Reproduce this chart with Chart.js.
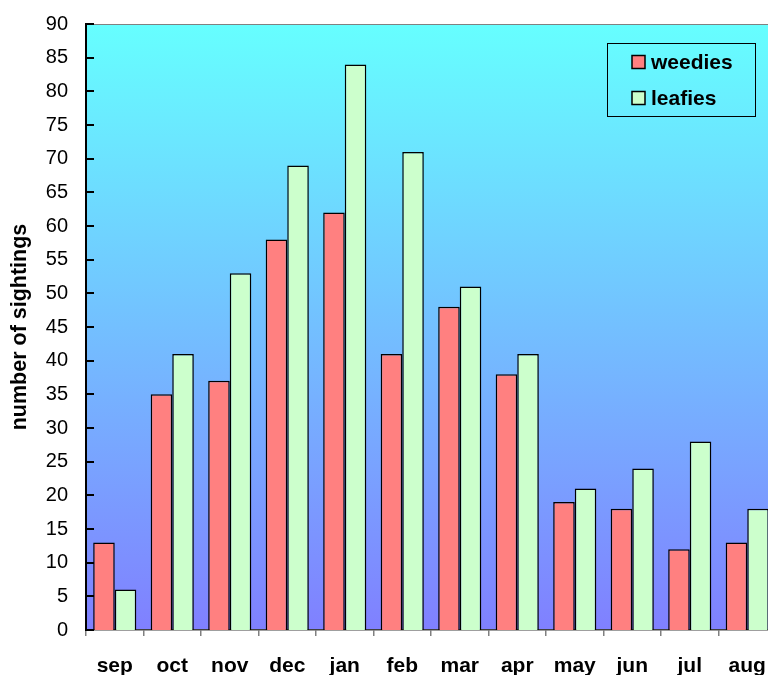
<!DOCTYPE html>
<html>
<head>
<meta charset="utf-8">
<script src="https://cdn.jsdelivr.net/npm/chart.js@4/dist/chart.umd.min.js"></script>
<style>
  html, body { margin: 0; padding: 0; overflow: hidden; background: #ffffff; }
  #wrap { width: 790px; height: 675px; }
</style>
</head>
<body>
<div id="wrap"><canvas id="c" width="790" height="675"></canvas></div>
<script>
// Monthly sightings, September through August
const months = ['sep', 'oct', 'nov', 'dec', 'jan', 'feb', 'mar', 'apr', 'may', 'jun', 'jul', 'aug'];
const weedies = [13, 35, 37, 58, 62, 41, 48, 38, 19, 18, 12, 13];
const leafies = [6, 41, 53, 69, 84, 71, 51, 41, 21, 24, 28, 18];
const yMax = 90;
const yStep = 5;

const FONT = "'Liberation Sans', Arial, Helvetica, sans-serif";

// Gradient plot background, plot frame and inward y tick marks
const plotDecor = {
  id: 'plotDecor',
  beforeDraw(chart) {
    const { ctx, chartArea: a } = chart;
    const g = ctx.createLinearGradient(0, a.top, 0, a.bottom);
    g.addColorStop(0, '#66ffff');
    g.addColorStop(1, '#8080ff');
    ctx.save();
    ctx.fillStyle = g;
    ctx.fillRect(a.left, a.top, a.right - a.left, a.bottom - a.top);
    ctx.strokeStyle = '#808080';
    ctx.lineWidth = 1;
    ctx.beginPath();
    ctx.moveTo(a.left, a.top + 0.5);
    ctx.lineTo(a.right, a.top + 0.5);
    ctx.stroke();
    ctx.restore();
  },
  afterDraw(chart) {
    const { ctx, chartArea: a, scales } = chart;
    const y = scales.y;
    ctx.save();
    ctx.strokeStyle = '#000000';
    ctx.lineWidth = 2;
    ctx.beginPath();
    y.ticks.forEach(t => {
      const py = Math.round(y.getPixelForValue(t.value));
      ctx.moveTo(a.left, py);
      ctx.lineTo(a.left + 8, py);
    });
    ctx.stroke();
    ctx.beginPath();
    ctx.moveTo(a.left, a.top - 1);
    ctx.lineTo(a.left, a.bottom + 1);
    ctx.stroke();
    ctx.restore();
  }
};

// Boxed legend drawn inside the plot, top right
const boxLegend = {
  id: 'boxLegend',
  afterDraw(chart) {
    const { ctx } = chart;
    const bx = 607, by = 43, bw = 148, bh = 73;
    ctx.save();
    ctx.strokeStyle = '#000000';
    ctx.lineWidth = 1;
    ctx.strokeRect(bx + 0.5, by + 0.5, bw, bh);
    ctx.font = 'bold 21px ' + FONT;
    ctx.textBaseline = 'middle';
    ctx.textAlign = 'left';
    chart.data.datasets.forEach((ds, i) => {
      const cy = by + 19 + i * 36;
      ctx.fillStyle = ds.backgroundColor;
      ctx.fillRect(bx + 25, cy - 6.5, 13, 13);
      ctx.strokeStyle = '#000000';
      ctx.lineWidth = 1.5;
      ctx.strokeRect(bx + 25, cy - 6.5, 13, 13);
      ctx.fillStyle = '#000000';
      ctx.fillText(ds.label, bx + 44, cy + 1);
    });
    ctx.restore();
  }
};

new Chart(document.getElementById('c'), {
  type: 'bar',
  data: {
    labels: months,
    datasets: [
      { label: 'weedies', data: weedies, backgroundColor: '#ff8080', borderColor: '#000000', borderWidth: 1.5 },
      { label: 'leafies', data: leafies, backgroundColor: '#ccffcc', borderColor: '#000000', borderWidth: 1.5 }
    ]
  },
  options: {
    responsive: false,
    animation: false,
    devicePixelRatio: 1,
    layout: { padding: { left: 0, top: 24, right: 14, bottom: 0 } },
    datasets: { bar: { categoryPercentage: 0.75, barPercentage: 1.0 } },
    plugins: {
      legend: { display: false },
      tooltip: { enabled: false }
    },
    scales: {
      x: {
        offset: true,
        grid: {
          offset: true,
          display: true,
          drawOnChartArea: false,
          drawTicks: true,
          tickLength: 6,
          color: '#808080',
          lineWidth: 1.5
        },
        border: { display: true, color: '#404040', width: 1.5 },
        ticks: {
          color: '#000000',
          padding: 18,
          font: { family: FONT, size: 21, weight: 'bold' },
          maxRotation: 0,
          autoSkip: false
        },
        afterFit(scale) {
          scale.height = 45;
          scale.paddingLeft = 0;
          scale.paddingRight = 0;
        }
      },
      y: {
        min: 0,
        max: yMax,
        grid: { display: false, drawTicks: false },
        border: { display: false },
        ticks: {
          stepSize: yStep,
          color: '#000000',
          padding: 18,
          font: { family: FONT, size: 20 }
        },
        title: {
          display: true,
          text: 'number of sightings',
          color: '#000000',
          padding: { top: 7, bottom: 0 },
          font: { family: FONT, size: 21.5, weight: 'bold' }
        },
        afterFit(scale) {
          scale.width = 86;
          scale.paddingTop = 0;
          scale.paddingBottom = 0;
        }
      }
    }
  },
  plugins: [plotDecor, boxLegend]
});
</script>
</body>
</html>
